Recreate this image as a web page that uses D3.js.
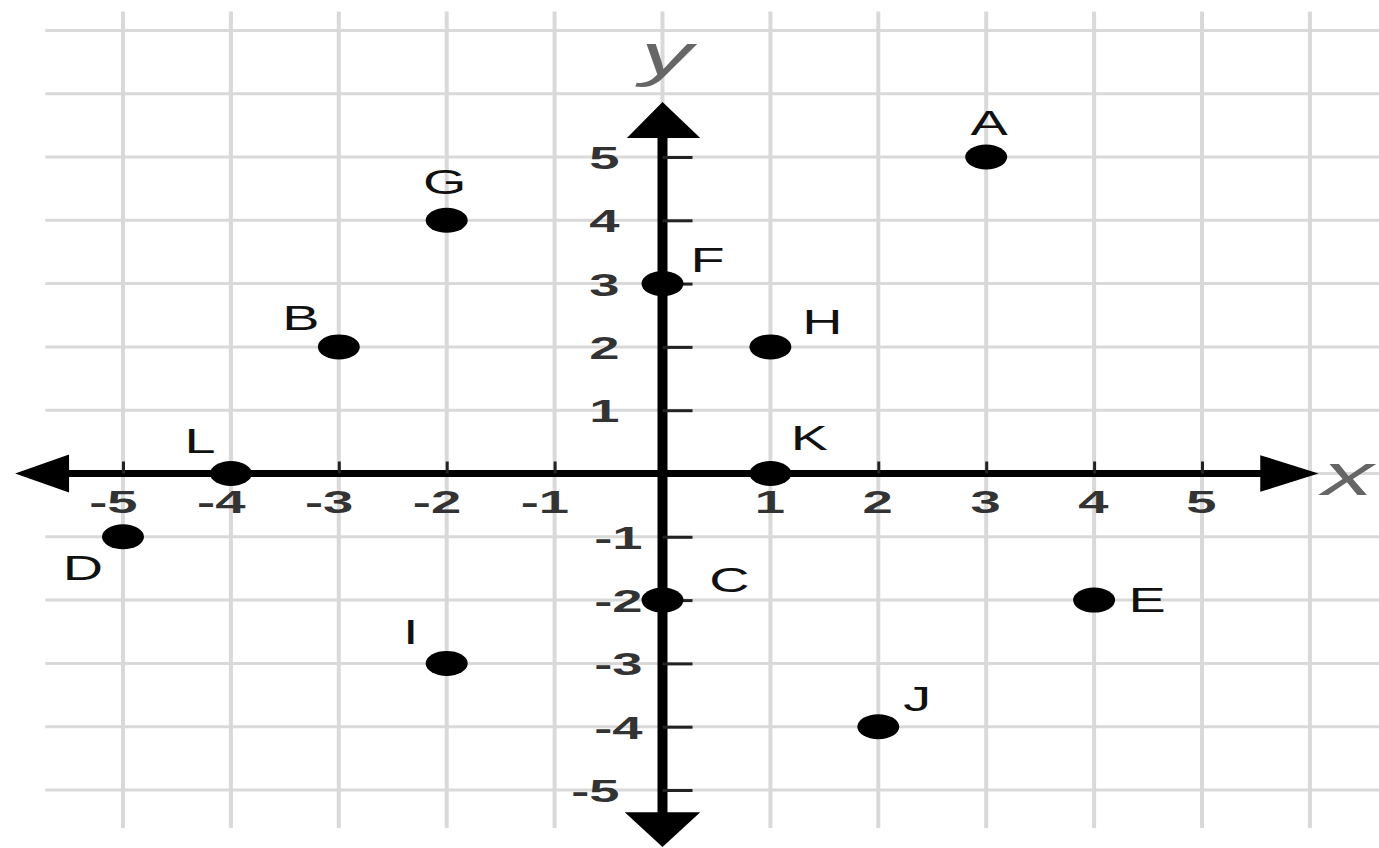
<!DOCTYPE html>
<html>
<head>
<meta charset="utf-8">
<style>
body { margin: 0; background: #fff; }
.tick_label { font-family: "Liberation Sans", Arial, sans-serif; font-weight: bold; font-size: 32px; fill: #333; }
.pt_label { font-family: "Liberation Sans", Arial, sans-serif; font-size: 36px; fill: #111; }
.axis_name { font-family: "Liberation Sans", Arial, sans-serif; font-style: italic; font-size: 60px; fill: #666; }
</style>
</head>
<body>
<div id="chart"></div>
<script src="https://d3js.org/d3.v7.min.js"></script>
<script>
// points
var names = ["A", "B", "C", "D", "E", "F", "G", "H", "I", "J", "K", "L"];
var xs    = [3, -3, 0, -5, 4, 0, -2, 1, -2, 2, 1, -4];
var ys    = [5, 2, -2, -1, -2, 3, 4, 2, -3, -4, 0, 0];

var xTicks = [-5, -4, -3, -2, -1, 1, 2, 3, 4, 5];
var yTicks = [5, 4, 3, 2, 1, -1, -2, -3, -4, -5];

var W = 1379, H = 848;
var stretch = 1.7; // the picture is pulled wide, text too

var svg = d3.select("#chart").append("svg")
  .attr("width", W).attr("height", H);

var x = d3.scaleLinear().domain([-5, 5]).range([123, 1202]);
var y = d3.scaleLinear().domain([-5, 5]).range([790, 157]);

// grid
svg.append("g").selectAll("line")
  .data(d3.range(-5, 7))
  .enter().append("line")
    .attr("x1", function(d) { return x(d); })
    .attr("x2", function(d) { return x(d); })
    .attr("y1", y(7.3)).attr("y2", y(-5.6))
    .attr("stroke", "#d9d9d9").attr("stroke-width", 4);

svg.append("g").selectAll("line")
  .data(d3.range(-5, 8))
  .enter().append("line")
    .attr("y1", function(d) { return y(d); })
    .attr("y2", function(d) { return y(d); })
    .attr("x1", x(-5.72)).attr("x2", W)
    .attr("stroke", "#d9d9d9").attr("stroke-width", 3);

// axis lines + arrowheads
svg.append("line")
  .attr("x1", x(-5.6)).attr("x2", x(5.6))
  .attr("y1", y(0)).attr("y2", y(0))
  .attr("stroke", "#000").attr("stroke-width", 7);
svg.append("line")
  .attr("x1", x(0)).attr("x2", x(0))
  .attr("y1", y(5.4)).attr("y2", y(-5.45))
  .attr("stroke", "#000").attr("stroke-width", 10);

var arrows = [
  [[x(-6), y(0)], [x(-5.5), y(0.3)], [x(-5.5), y(-0.3)]],
  [[x(6.08), y(0)], [x(5.54), y(0.29)], [x(5.54), y(-0.29)]],
  [[x(0), y(5.87)], [x(-0.33), y(5.3)], [x(0.35), y(5.3)]],
  [[x(0), y(-5.9)], [x(-0.35), y(-5.35)], [x(0.35), y(-5.35)]]
];
svg.append("g").selectAll("polygon")
  .data(arrows)
  .enter().append("polygon")
    .attr("points", function(d) { return d.map(function(p) { return p.join(","); }).join(" "); })
    .attr("fill", "#000");

// tick marks and labels
var gx = svg.append("g")
  .attr("transform", "translate(0," + y(0) + ")")
  .call(d3.axisBottom(x).tickValues(xTicks).tickSize(-12).tickPadding(17));
gx.select(".domain").remove();
gx.selectAll(".tick line").attr("stroke", "#222").attr("stroke-width", 3);
gx.selectAll(".tick text")
  .attr("class", "tick_label")
  .attr("text-anchor", "end")
  .attr("x", 14 / stretch)
  .attr("transform", "scale(" + stretch + ",1)")
  .text(function(d) { return d < 0 ? "-" + Math.abs(d) : d; });

var gy = svg.append("g")
  .attr("transform", "translate(" + x(0) + ",0)")
  .call(d3.axisLeft(y).tickValues(yTicks).tickSize(-30));
gy.select(".domain").remove();
gy.selectAll(".tick line").attr("stroke", "#222").attr("stroke-width", 3);
gy.selectAll(".tick text")
  .attr("class", "tick_label")
  .attr("text-anchor", "end")
  .attr("dy", "0.36em")
  .attr("x", function(d) { return (d < 0 && d > -5 ? -20 : -43) / stretch; })
  .attr("transform", "scale(" + stretch + ",1)")
  .text(function(d) { return d < 0 ? "-" + Math.abs(d) : d; });

// axis names
svg.append("text").attr("class", "axis_name")
  .attr("transform", "translate(" + (x(6.35)) + "," + (y(0) + 21) + ") scale(" + stretch + ",1)")
  .attr("text-anchor", "middle").text("x");
svg.append("text").attr("class", "axis_name")
  .attr("transform", "translate(" + (x(0) + 4) + "," + (y(6.3)) + ") scale(" + stretch + ",1)")
  .attr("text-anchor", "middle").text("y");

// label placement next to each dot (screen px)
var labelShift = {
  A: [3, -35], B: [-38, -30], C: [67, -21], D: [-40, 30], E: [53, -1], F: [45, -25],
  G: [-2, -39], H: [52, -26], I: [-36, -32], J: [39, -29], K: [39, -36], L: [-31, -33]
};

var pts = names.map(function(n, i) { return {name: n, x: xs[i], y: ys[i]}; });

svg.append("g").selectAll("ellipse")
  .data(pts)
  .enter().append("ellipse")
    .attr("cx", function(d) { return x(d.x); })
    .attr("cy", function(d) { return y(d.y); })
    .attr("rx", 21).attr("ry", 12.5)
    .attr("fill", "#000");

svg.append("g").selectAll("text")
  .data(pts)
  .enter().append("text")
    .attr("class", "pt_label")
    .attr("text-anchor", "middle")
    .attr("dy", "0.36em")
    .attr("transform", function(d) {
      var s = labelShift[d.name];
      return "translate(" + (x(d.x) + s[0]) + "," + (y(d.y) + s[1]) + ") scale(1.55,1)";
    })
    .text(function(d) { return d.name; });
</script>
</body>
</html>
